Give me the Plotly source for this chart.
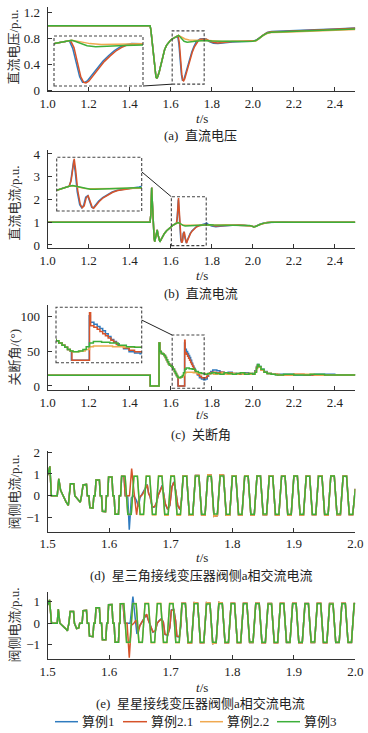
import plotly.graph_objects as go

W, H = 368, 733
FONT = "Liberation Serif, Times New Roman, Noto Sans CJK SC, serif"

names = ["算例1", "算例2.1", "算例2.2", "算例3"]
colors = ["#2f7bbf", "#d6532a", "#f0a950", "#3daf3a"]

# ---------------- tick values ----------------
xt_long = [1.0, 1.2, 1.4, 1.6, 1.8, 2.0, 2.2, 2.4]
xt_short = [1.5, 1.6, 1.7, 1.8, 1.9, 2.0]
yt_a = [0, 0.4, 0.8, 1.2]
yt_a_txt = ["0", "0.4", "0.8", "1.2"]
yt_b = [0, 1, 2, 3, 4]
yt_c = [0, 50, 100]
yt_d = [-1, 0, 1, 2]
yt_e = [-1, 0, 1]

# ---------------- (a) DC voltage ----------------
a_common = [(1.000, 0.99), (1.300, 0.99), (1.4990, 0.99), (1.5030, 0.93), (1.5080, 0.78),
            (1.5130, 0.57), (1.5180, 0.42), (1.5230, 0.28), (1.5280, 0.20), (1.5320, 0.18),
            (1.5370, 0.21), (1.5440, 0.28), (1.5520, 0.40), (1.5600, 0.52), (1.5700, 0.62),
            (1.5800, 0.69), (1.5900, 0.74), (1.6000, 0.77), (1.6100, 0.79), (1.6200, 0.81),
            (1.6300, 0.83)]
a_blue_tail = [(1.6340, 0.83), (1.6400, 0.70), (1.6460, 0.45), (1.6520, 0.24), (1.6570, 0.15),
               (1.6610, 0.15), (1.6660, 0.18), (1.6730, 0.26), (1.6830, 0.39), (1.6930, 0.50),
               (1.7030, 0.59), (1.7130, 0.67), (1.7230, 0.73), (1.7330, 0.765), (1.7430, 0.785),
               (1.7580, 0.79), (1.7730, 0.78), (1.7880, 0.745), (1.8080, 0.72), (1.8300, 0.715),
               (1.8600, 0.73), (1.9000, 0.74), (1.9500, 0.745), (2.0000, 0.75), (2.0150, 0.765),
               (2.0300, 0.80), (2.0500, 0.85), (2.0700, 0.885), (2.0900, 0.90), (2.1500, 0.905),
               (2.2000, 0.91), (2.3000, 0.925), (2.4000, 0.94), (2.5000, 0.955)]
a_red_tail = [(1.6360, 0.835), (1.6420, 0.72), (1.6480, 0.45), (1.6540, 0.24), (1.6590, 0.15),
              (1.6630, 0.14), (1.6680, 0.17), (1.6750, 0.25), (1.6850, 0.38), (1.6950, 0.49),
              (1.7050, 0.58), (1.7150, 0.66), (1.7250, 0.72), (1.7350, 0.76), (1.7450, 0.78),
              (1.7600, 0.785), (1.7750, 0.78), (1.7900, 0.75), (1.8100, 0.73), (1.8300, 0.725),
              (1.8600, 0.735), (1.9000, 0.745), (1.9500, 0.75), (2.0000, 0.75), (2.0150, 0.76),
              (2.0300, 0.795), (2.0500, 0.845), (2.0700, 0.88), (2.0900, 0.895), (2.1500, 0.90),
              (2.2000, 0.905), (2.3000, 0.92), (2.4000, 0.935), (2.5000, 0.95)]
a_orange_tail = [(1.6380, 0.84), (1.6450, 0.83), (1.6550, 0.81), (1.6700, 0.785), (1.6900, 0.77),
                 (1.7100, 0.765), (1.7300, 0.76), (1.7500, 0.76), (1.7700, 0.765), (1.8000, 0.755),
                 (1.8500, 0.745), (1.9000, 0.75), (1.9500, 0.75), (2.0000, 0.748), (2.0150, 0.755),
                 (2.0300, 0.785), (2.0500, 0.835), (2.0700, 0.87), (2.0900, 0.885), (2.1500, 0.89),
                 (2.2000, 0.895), (2.3000, 0.905), (2.4000, 0.92), (2.5000, 0.93)]
a_green_tail = [(1.6380, 0.84), (1.6450, 0.82), (1.6550, 0.78), (1.6650, 0.75), (1.6800, 0.735),
                (1.6950, 0.735), (1.7100, 0.745), (1.7300, 0.755), (1.7500, 0.76), (1.7700, 0.76),
                (1.8000, 0.755), (1.8500, 0.75), (1.9000, 0.75), (1.9500, 0.748), (2.0000, 0.75),
                (2.0150, 0.76), (2.0300, 0.79), (2.0500, 0.84), (2.0700, 0.875), (2.0900, 0.89),
                (2.1500, 0.895), (2.2000, 0.90), (2.3000, 0.915), (2.4000, 0.93), (2.5000, 0.94)]

# ---------------- (b) DC current ----------------
b_common = [(1.000, 1.0), (1.4990, 1.0), (1.5030, 1.35), (1.5070, 2.52), (1.5110, 1.75),
            (1.5150, 0.85), (1.5190, 0.30), (1.5220, 0.15), (1.5260, 0.30), (1.5310, 0.62),
            (1.5340, 0.66), (1.5380, 0.45), (1.5430, 0.20), (1.5470, 0.14), (1.5520, 0.22),
            (1.5600, 0.38), (1.5700, 0.52), (1.5800, 0.63), (1.5900, 0.72), (1.6000, 0.79),
            (1.6100, 0.86), (1.6200, 0.92), (1.6280, 0.96)]
b_blue_tail = [(1.6310, 1.15), (1.6340, 1.70), (1.6370, 2.00), (1.6400, 1.55), (1.6440, 0.75),
               (1.6490, 0.22), (1.6530, 0.10), (1.6570, 0.20), (1.6610, 0.52), (1.6650, 0.58),
               (1.6690, 0.33), (1.6730, 0.12), (1.6760, 0.09), (1.6800, 0.20), (1.6870, 0.37),
               (1.6950, 0.51), (1.7040, 0.63), (1.7140, 0.73), (1.7240, 0.80), (1.7390, 0.86),
               (1.7540, 0.89), (1.7680, 0.93), (1.7750, 0.97), (1.7830, 0.90), (1.8000, 0.83),
               (1.8200, 0.80), (1.8400, 0.82), (1.8700, 0.85), (1.9000, 0.87), (1.9300, 0.87),
               (1.9600, 0.865), (1.9850, 0.86), (1.9950, 0.83), (2.0050, 0.80), (2.0120, 0.81),
               (2.0200, 0.85), (2.0350, 0.91), (2.0500, 0.96), (2.0700, 0.99), (2.0900, 1.0),
               (2.1500, 1.01), (2.2000, 1.0), (2.3000, 1.005), (2.4000, 1.0), (2.5000, 1.0)]
b_red_tail = [(1.6320, 1.20), (1.6350, 1.75), (1.6380, 2.06), (1.6410, 1.60), (1.6450, 0.80),
              (1.6500, 0.25), (1.6540, 0.10), (1.6580, 0.18), (1.6620, 0.50), (1.6660, 0.58),
              (1.6700, 0.35), (1.6740, 0.12), (1.6770, 0.08), (1.6810, 0.18), (1.6880, 0.35),
              (1.6960, 0.50), (1.7050, 0.62), (1.7150, 0.72), (1.7250, 0.79), (1.7400, 0.85),
              (1.7550, 0.88), (1.7700, 0.90), (1.7850, 0.885), (1.8000, 0.86), (1.8200, 0.84),
              (1.8400, 0.845), (1.8700, 0.86), (1.9000, 0.87), (1.9300, 0.875), (1.9600, 0.865),
              (1.9850, 0.86), (1.9950, 0.83), (2.0050, 0.79), (2.0120, 0.80), (2.0200, 0.84),
              (2.0350, 0.90), (2.0500, 0.95), (2.0700, 0.985), (2.0900, 1.0), (2.1500, 1.0),
              (2.2000, 1.005), (2.3000, 1.0), (2.4000, 1.0), (2.5000, 1.0)]
b_orange_tail = [(1.6350, 0.98), (1.6420, 0.95), (1.6500, 0.91), (1.6600, 0.875), (1.6750, 0.865),
                 (1.6950, 0.87), (1.7200, 0.88), (1.7500, 0.89), (1.7700, 0.895), (1.8000, 0.885),
                 (1.8400, 0.88), (1.8700, 0.885), (1.9000, 0.875), (1.9300, 0.88), (1.9600, 0.87),
                 (1.9850, 0.865), (1.9950, 0.835), (2.0050, 0.80), (2.0120, 0.805), (2.0200, 0.84),
                 (2.0350, 0.90), (2.0500, 0.95), (2.0700, 0.985), (2.0900, 1.0), (2.1500, 1.0),
                 (2.2000, 1.0), (2.3000, 1.005), (2.4000, 1.0), (2.5000, 1.0)]
b_green_tail = [(1.6350, 0.99), (1.6420, 0.96), (1.6500, 0.90), (1.6600, 0.86), (1.6700, 0.84),
                (1.6800, 0.845), (1.6950, 0.86), (1.7100, 0.875), (1.7300, 0.885), (1.7500, 0.895),
                (1.7700, 0.90), (1.7900, 0.89), (1.8100, 0.88), (1.8400, 0.875), (1.8700, 0.88),
                (1.9000, 0.87), (1.9300, 0.875), (1.9600, 0.865), (1.9850, 0.86), (1.9950, 0.83),
                (2.0050, 0.79), (2.0120, 0.80), (2.0200, 0.84), (2.0350, 0.90), (2.0500, 0.95),
                (2.0700, 0.985), (2.0900, 1.0), (2.1500, 1.0), (2.2000, 1.005), (2.3000, 1.0),
                (2.4000, 1.0), (2.5000, 1.0)]

# ---------------- (c) extinction angle (step values) ----------------
c_common = [(1.000, 15.5), (1.5000, 0.0), (1.5430, 62), (1.5470, 50), (1.5540, 47), (1.5620, 46),
            (1.5680, 44), (1.5740, 41), (1.5790, 38), (1.5840, 35), (1.5890, 32), (1.5940, 30),
            (1.6000, 29), (1.6070, 27), (1.6120, 24), (1.6180, 21), (1.6230, 18), (1.6280, 15),
            (1.6330, 13)]
c_blue_tail = [(1.6350, 0.0), (1.6675, 62), (1.6695, 53), (1.6760, 50), (1.6820, 47), (1.6870, 44),
               (1.6920, 41), (1.6970, 37), (1.7020, 33), (1.7070, 29), (1.7120, 26), (1.7170, 23),
               (1.7220, 20), (1.7300, 16), (1.7400, 12), (1.7500, 10), (1.7600, 9), (1.7700, 10),
               (1.7780, 14), (1.7850, 18), (1.7950, 21), (1.8050, 23), (1.8250, 22), (1.8400, 20),
               (1.8600, 19), (1.8800, 20), (1.9000, 18), (1.9200, 18), (1.9400, 17), (1.9600, 19),
               (1.9800, 17), (2.0000, 18), (2.0100, 22), (2.0180, 28), (2.0230, 31), (2.0300, 28),
               (2.0400, 24), (2.0550, 21), (2.0700, 18), (2.0900, 17), (2.1200, 17), (2.2000, 16),
               (2.3000, 17), (2.4000, 16), (2.5000, 16)]
c_red_tail = [(1.6360, 0.0), (1.6680, 66), (1.6700, 48), (1.6760, 46), (1.6820, 43), (1.6870, 40),
              (1.6920, 37), (1.6970, 34), (1.7020, 31), (1.7070, 28), (1.7120, 25), (1.7170, 22),
              (1.7220, 20), (1.7300, 17), (1.7400, 14), (1.7500, 12), (1.7650, 12), (1.7750, 14),
              (1.7820, 17), (1.7900, 19), (1.8000, 20), (1.8200, 19), (1.8400, 20), (1.8600, 18),
              (1.8800, 19), (1.9000, 18), (1.9200, 17), (1.9400, 19), (1.9600, 17), (1.9800, 18),
              (2.0000, 17), (2.0100, 21), (2.0180, 27), (2.0230, 30), (2.0300, 27), (2.0400, 23),
              (2.0550, 20), (2.0700, 18), (2.0900, 17), (2.1200, 16), (2.2000, 17), (2.2500, 16),
              (2.3500, 16), (2.4500, 16), (2.5000, 16)]
c_orange_tail = [(1.6380, 12), (1.6500, 13), (1.6600, 15), (1.6680, 19), (1.6750, 20), (1.6900, 20),
                 (1.7100, 19), (1.7300, 18), (1.7500, 18), (1.7700, 17), (1.7900, 18), (1.8100, 17),
                 (1.8300, 18), (1.8500, 19), (1.8700, 17), (1.8900, 18), (1.9100, 17), (1.9300, 18),
                 (1.9500, 17), (1.9700, 18), (1.9900, 17), (2.0100, 20), (2.0180, 25), (2.0230, 29),
                 (2.0300, 27), (2.0400, 23), (2.0550, 20), (2.0700, 18), (2.0900, 17), (2.1300, 16),
                 (2.2000, 17), (2.3000, 16), (2.4000, 16), (2.5000, 16)]
c_green_tail = [(1.6380, 12), (1.6480, 13), (1.6560, 15), (1.6620, 19), (1.6680, 24), (1.6750, 26),
                (1.6900, 25), (1.7050, 24), (1.7200, 21), (1.7350, 19), (1.7500, 18), (1.7650, 17),
                (1.7800, 18), (1.8000, 19), (1.8200, 18), (1.8400, 17), (1.8600, 19), (1.8800, 18),
                (1.9000, 17), (1.9200, 18), (1.9400, 19), (1.9600, 17), (1.9800, 18), (2.0000, 17),
                (2.0100, 20), (2.0180, 26), (2.0230, 31), (2.0300, 28), (2.0400, 24), (2.0550, 20),
                (2.0700, 18), (2.0900, 17), (2.1100, 16), (2.1500, 17), (2.2000, 16), (2.2800, 17),
                (2.3500, 16), (2.4200, 16), (2.5000, 15.5)]

# ---------------- (d) Y-D transformer valve-side phase-a current ----------------
d_pre = [(1.5000, 0.95), (1.5035, 1.35), (1.5060, 0.0), (1.5155, 0.0), (1.5180, 0.78), (1.5210, 0.25),
         (1.5300, -0.30), (1.5335, -0.45), (1.5370, 0.55), (1.5425, 0.55), (1.5440, 0.0),
         (1.5480, -0.15), (1.5530, -0.30), (1.5550, 0.0), (1.5575, 0.50), (1.5630, 0.52),
         (1.5645, 0.0), (1.5670, 0.0), (1.5685, -0.55), (1.5735, -0.57), (1.5750, 0.0), (1.5770, 0.0),
         (1.5785, 0.72), (1.5840, 0.72), (1.5855, 0.0), (1.5875, 0.0), (1.5890, -0.72), (1.5940, -0.74),
         (1.5955, 0.0), (1.5975, 0.0), (1.5990, 0.86), (1.6045, 0.86), (1.6060, 0.0), (1.6080, 0.0),
         (1.6095, -0.86), (1.6150, -0.86), (1.6165, 0.0), (1.6185, 0.0), (1.6202, 0.90)]
d_blue_mid = [(1.6240, 0.90), (1.6260, 0.0), (1.6300, 0.0), (1.6326, -1.57), (1.6360, -0.10),
              (1.6400, 0.0), (1.6440, -0.20), (1.6475, -0.50), (1.6500, -0.10), (1.6540, 0.08),
              (1.6580, 0.32), (1.6615, 0.52), (1.6640, 0.12), (1.6665, -0.05), (1.6700, -0.55),
              (1.6740, -0.52), (1.6770, -0.30), (1.6800, 0.05), (1.6830, 0.25), (1.6860, 0.48),
              (1.6885, 0.10), (1.6910, -0.38), (1.6950, -0.64), (1.6985, -0.45), (1.7020, 0.42),
              (1.7050, 0.64), (1.7080, 0.25), (1.7115, -0.47), (1.7150, -0.64), (1.7175, -0.20)]
d_red_mid = [(1.6240, 0.90), (1.6260, 0.0), (1.6330, 0.0), (1.6365, 1.25), (1.6400, 0.25),
             (1.6445, -0.88), (1.6475, -0.25), (1.6500, -0.05), (1.6540, 0.05), (1.6580, 0.30),
             (1.6620, 0.50), (1.6640, 0.10), (1.6665, -0.05), (1.6700, -0.52), (1.6740, -0.50),
             (1.6770, -0.30), (1.6800, 0.05), (1.6830, 0.22), (1.6860, 0.45), (1.6885, 0.10),
             (1.6910, -0.35), (1.6950, -0.62), (1.6985, -0.45), (1.7020, 0.40), (1.7050, 0.62),
             (1.7080, 0.25), (1.7115, -0.45), (1.7150, -0.62), (1.7175, -0.20)]
d_orange_mid = [(1.6258, 0.90), (1.6302, -0.87), (1.6358, -0.87), (1.6402, 0.90), (1.6458, 0.90),
                (1.6502, -0.88), (1.6558, -0.88), (1.6602, 0.91), (1.6658, 0.91), (1.6702, -0.89),
                (1.6758, -0.89), (1.6802, 0.92), (1.6858, 0.92), (1.6902, -0.90), (1.6958, -0.90),
                (1.7002, 0.92), (1.7058, 0.92), (1.7102, -0.90), (1.7158, -0.90)]
d_green_mid = [(1.6258, 0.90), (1.6302, -0.86), (1.6358, -0.86), (1.6402, 0.90), (1.6458, 0.90),
               (1.6502, -0.86), (1.6558, -0.86), (1.6602, 0.90), (1.6658, 0.90), (1.6702, -0.86),
               (1.6758, -0.86), (1.6802, 0.90), (1.6858, 0.90), (1.6902, -0.86), (1.6958, -0.86),
               (1.7002, 0.90), (1.7058, 0.90), (1.7102, -0.86), (1.7158, -0.86)]
d_ss_t = [1.7202, 1.7258, 1.7302, 1.7358, 1.7402, 1.7458, 1.7502, 1.7558,
          1.7602, 1.7658, 1.7702, 1.7758, 1.7802, 1.7858, 1.7902, 1.7958,
          1.8002, 1.8058, 1.8102, 1.8158, 1.8202, 1.8258, 1.8302, 1.8358,
          1.8402, 1.8458, 1.8502, 1.8558, 1.8602, 1.8658, 1.8702, 1.8758,
          1.8802, 1.8858, 1.8902, 1.8958, 1.9002, 1.9058, 1.9102, 1.9158,
          1.9202, 1.9258, 1.9302, 1.9358, 1.9402, 1.9458, 1.9502, 1.9558,
          1.9602, 1.9658, 1.9702, 1.9758, 1.9802, 1.9858, 1.9902, 1.9958, 2.0000]
d_ss_green = [0.90, 0.90, -0.86, -0.86, 0.91, 0.91, -0.86, -0.86,
              0.90, 0.90, -0.85, -0.85, 0.91, 0.91, -0.86, -0.86,
              0.90, 0.90, -0.86, -0.86, 0.90, 0.90, -0.86, -0.86,
              0.91, 0.91, -0.85, -0.85, 0.90, 0.90, -0.86, -0.86,
              0.90, 0.90, -0.86, -0.86, 0.91, 0.91, -0.86, -0.86,
              0.90, 0.90, -0.86, -0.86, 0.90, 0.90, -0.86, -0.86,
              0.91, 0.91, -0.85, -0.85, 0.90, 0.90, -0.86, -0.86, 0.30]
d_ss_other = [0.92, 0.92, -0.90, -0.90, 0.93, 0.93, -0.89, -0.89,
              0.96, 0.94, -0.95, -0.92, 0.96, 0.94, -0.90, -0.90,
              0.92, 0.92, -0.89, -0.89, 0.92, 0.92, -0.89, -0.89,
              0.92, 0.92, -0.88, -0.88, 0.92, 0.92, -0.89, -0.89,
              0.91, 0.91, -0.89, -0.89, 0.92, 0.92, -0.89, -0.89,
              0.91, 0.91, -0.88, -0.88, 0.92, 0.92, -0.89, -0.89,
              0.92, 0.92, -0.88, -0.88, 0.91, 0.91, -0.88, -0.88, 0.32]

# ---------------- (e) Y-Y transformer valve-side phase-a current ----------------
e_pre = [(1.5000, 0.85), (1.5030, 1.08), (1.5062, 0.0), (1.5155, 0.0), (1.5172, 0.65), (1.5198, 0.0),
         (1.5290, -0.25), (1.5320, -0.35), (1.5345, 0.0), (1.5365, 0.54), (1.5420, 0.54),
         (1.5435, 0.0), (1.5470, -0.25), (1.5505, -0.22), (1.5520, 0.0), (1.5560, 0.0),
         (1.5575, 0.58), (1.5630, 0.60), (1.5645, 0.0), (1.5665, 0.0), (1.5680, -0.60),
         (1.5735, -0.62), (1.5750, 0.0), (1.5770, 0.0), (1.5785, 0.72), (1.5840, 0.72), (1.5855, 0.0),
         (1.5875, 0.0), (1.5890, -0.76), (1.5945, -0.76), (1.5960, 0.0), (1.5975, 0.0), (1.5990, 0.86),
         (1.6045, 0.87), (1.6060, 0.0), (1.6080, 0.0), (1.6095, -0.88), (1.6150, -0.88), (1.6165, 0.0),
         (1.6175, 0.0), (1.6182, 0.90)]
e_blue_mid = [(1.6225, 0.90), (1.6250, 0.0), (1.6340, 0.0), (1.6385, 1.23), (1.6420, 0.30),
              (1.6450, -0.50), (1.6480, -0.20), (1.6520, 0.0), (1.6560, 0.25), (1.6600, 0.40),
              (1.6640, 0.12), (1.6670, -0.10), (1.6710, -0.42), (1.6750, -0.36), (1.6780, 0.0),
              (1.6810, 0.12), (1.6850, 0.22), (1.6880, 0.05), (1.6905, -0.52), (1.6950, -0.57),
              (1.6985, -0.22), (1.7010, 0.62), (1.7050, 0.64), (1.7080, 0.10), (1.7100, -0.62),
              (1.7140, -0.64), (1.7165, -0.10)]
e_red_mid = [(1.6225, 0.90), (1.6250, 0.0), (1.6290, 0.0), (1.6326, -1.60), (1.6360, -0.10),
             (1.6400, 0.0), (1.6440, 0.15), (1.6470, -0.45), (1.6500, -0.10), (1.6540, 0.10),
             (1.6580, 0.30), (1.6610, 0.42), (1.6640, 0.10), (1.6670, -0.10), (1.6710, -0.40),
             (1.6750, -0.35), (1.6780, 0.0), (1.6810, 0.10), (1.6850, 0.20), (1.6880, 0.05),
             (1.6905, -0.50), (1.6950, -0.55), (1.6985, -0.20), (1.7010, 0.60), (1.7050, 0.62),
             (1.7080, 0.10), (1.7100, -0.60), (1.7140, -0.62), (1.7165, -0.10)]
e_orange_mid = [(1.6238, 0.91), (1.6282, -0.89), (1.6338, -0.89), (1.6382, 0.91), (1.6438, 0.91),
                (1.6482, -0.89), (1.6538, -0.89), (1.6582, 0.92), (1.6638, 0.92), (1.6682, -0.90),
                (1.6738, -0.90), (1.6782, 0.92), (1.6838, 0.92), (1.6882, -0.90), (1.6938, -0.90),
                (1.6982, 0.92), (1.7038, 0.92), (1.7082, -0.90), (1.7138, -0.90)]
e_green_mid = [(1.6238, 0.90), (1.6282, -0.88), (1.6338, -0.88), (1.6382, 0.90), (1.6438, 0.90),
               (1.6482, -0.88), (1.6538, -0.88), (1.6582, 0.90), (1.6638, 0.90), (1.6682, -0.88),
               (1.6738, -0.88), (1.6782, 0.90), (1.6838, 0.90), (1.6882, -0.88), (1.6938, -0.88),
               (1.6982, 0.90), (1.7038, 0.90), (1.7082, -0.88), (1.7138, -0.88)]
e_ss_t = [1.7182, 1.7238, 1.7282, 1.7338, 1.7382, 1.7438, 1.7482, 1.7538,
          1.7582, 1.7638, 1.7682, 1.7738, 1.7782, 1.7838, 1.7882, 1.7938,
          1.7982, 1.8038, 1.8082, 1.8138, 1.8182, 1.8238, 1.8282, 1.8338,
          1.8382, 1.8438, 1.8482, 1.8538, 1.8582, 1.8638, 1.8682, 1.8738,
          1.8782, 1.8838, 1.8882, 1.8938, 1.8982, 1.9038, 1.9082, 1.9138,
          1.9182, 1.9238, 1.9282, 1.9338, 1.9382, 1.9438, 1.9482, 1.9538,
          1.9582, 1.9638, 1.9682, 1.9738, 1.9782, 1.9838, 1.9882, 1.9938, 1.9982, 2.0000]
e_ss_green = [0.90, 0.90, -0.88, -0.88, 0.90, 0.90, -0.88, -0.88,
              0.89, 0.89, -0.88, -0.88, 0.90, 0.90, -0.88, -0.88,
              0.90, 0.90, -0.88, -0.88, 0.90, 0.90, -0.87, -0.87,
              0.90, 0.90, -0.88, -0.88, 0.89, 0.89, -0.88, -0.88,
              0.90, 0.90, -0.88, -0.88, 0.90, 0.90, -0.88, -0.88,
              0.90, 0.90, -0.87, -0.87, 0.90, 0.90, -0.88, -0.88,
              0.89, 0.89, -0.88, -0.88, 0.90, 0.90, -0.88, -0.88, 0.90, 0.90]
e_ss_other = [0.92, 0.92, -0.91, -0.91, 0.95, 0.93, -0.90, -0.90,
              0.95, 0.93, -0.94, -0.91, 0.96, 0.93, -0.90, -0.90,
              0.92, 0.92, -0.90, -0.90, 0.92, 0.92, -0.89, -0.89,
              0.92, 0.92, -0.90, -0.90, 0.91, 0.91, -0.90, -0.90,
              0.92, 0.92, -0.89, -0.89, 0.92, 0.92, -0.90, -0.90,
              0.91, 0.91, -0.89, -0.89, 0.92, 0.92, -0.90, -0.90,
              0.91, 0.91, -0.89, -0.89, 0.92, 0.92, -0.89, -0.89, 0.91, 0.91]

# zoom windows of the insets: [t0, t1, v0, v1]
zoom_a = [1.607, 1.763, 0.09, 0.91]
zoom_b = [1.603, 1.773, -0.03, 2.12]
zoom_c = [1.607, 1.763, -3.3, 73.6]


def split(pairs):
    return [p[0] for p in pairs], [p[1] for p in pairs]


def ss(times, vals):
    return list(zip(times, vals))


series_a = [a_common + a_blue_tail, a_common + a_red_tail, a_common + a_orange_tail, a_common + a_green_tail]
series_b = [b_common + b_blue_tail, b_common + b_red_tail, b_common + b_orange_tail, b_common + b_green_tail]
series_c = [c_common + c_blue_tail, c_common + c_red_tail, c_common + c_orange_tail, c_common + c_green_tail]
series_d = [d_pre + d_blue_mid + ss(d_ss_t, d_ss_other), d_pre + d_red_mid + ss(d_ss_t, d_ss_other),
            d_pre + d_orange_mid + ss(d_ss_t, d_ss_other), d_pre + d_green_mid + ss(d_ss_t, d_ss_green)]
series_e = [e_pre + e_blue_mid + ss(e_ss_t, e_ss_other), e_pre + e_red_mid + ss(e_ss_t, e_ss_other),
            e_pre + e_orange_mid + ss(e_ss_t, e_ss_other), e_pre + e_green_mid + ss(e_ss_t, e_ss_green)]

# ---------------- layout geometry (pixels) ----------------
X0, X1 = 47.7, 355.3
panels = [
    dict(key="", series=series_a, top=6.8, bot=91.3, yr=[-0.02, 1.28], xr=[1.0, 2.5], xt=xt_long,
         yt=yt_a, ytt=yt_a_txt, shape="linear"),
    dict(key="2", series=series_b, top=149.9, bot=248.4, yr=[-0.15, 4.18], xr=[1.0, 2.5], xt=xt_long,
         yt=yt_b, ytt=[str(v) for v in yt_b], shape="linear"),
    dict(key="3", series=series_c, top=305.0, bot=390.0, yr=[-5.8, 117], xr=[1.0, 2.5], xt=xt_long,
         yt=yt_c, ytt=[str(v) for v in yt_c], shape="hv"),
    dict(key="4", series=series_d, top=451.2, bot=531.7, yr=[-1.66, 2.05], xr=[1.5, 2.0], xt=xt_short,
         yt=yt_d, ytt=["\u22121", "0", "1", "2"], shape="linear"),
    dict(key="5", series=series_e, top=591.7, bot=659.3, yr=[-1.67, 1.46], xr=[1.5, 2.0], xt=xt_short,
         yt=yt_e, ytt=["\u22121", "0", "1"], shape="linear"),
]
insets = [
    dict(key="6", parent=0, zoom=zoom_a, l=54.0, r=143.0, t=36.0, b=86.0, cf=0.0, box_corner="bottom"),
    dict(key="7", parent=1, zoom=zoom_b, l=56.7, r=141.7, t=157.3, b=211.0, cf=0.73, box_corner="top"),
    dict(key="8", parent=2, zoom=zoom_c, l=56.0, r=141.7, t=307.3, b=362.7, cf=0.77, box_corner="top"),
]

y_titles = [("直流电压/p.u.", 47), ("直流电流/p.u.", 203), ("关断角/(°)", 358), ("阀侧电流/p.u.", 492),
            ("阀侧电流/p.u.", 625)]
ts_y = [118, 275, 414, 557, 687]
captions = [("(a)  直流电压", 135), ("(b)  直流电流", 293), ("(c)  关断角", 434),
            ("(d)  星三角接线变压器阀侧a相交流电流", 575), ("(e)  星星接线变压器阀侧a相交流电流", 703)]


def px(x):
    return x / W


def py(y):
    return 1 - y / H


fig = go.Figure()
layout = dict(width=W, height=H, margin=dict(l=0, r=0, t=0, b=0, autoexpand=False), paper_bgcolor="white",
              plot_bgcolor="rgba(0,0,0,0)", showlegend=False, font=dict(family=FONT, size=13, color="#222"))
AX = "#333"

for p in panels:
    k = p["key"]
    xa, ya = "x" + k, "y" + k
    for i, s in enumerate(p["series"]):
        t, v = split(s)
        fig.add_trace(go.Scatter(x=t, y=v, mode="lines", xaxis=xa, yaxis=ya,
                                 line=dict(color=colors[i], width=1.5, shape=p["shape"]),
                                 hoverinfo="skip", showlegend=False))
    layout["xaxis" + k] = dict(domain=[px(X0), px(X1)], range=p["xr"], anchor=ya, showline=True,
                               linecolor=AX, linewidth=1, ticks="inside", ticklen=4, tickcolor=AX,
                               tickmode="array", tickvals=p["xt"], ticktext=["%.1f" % v for v in p["xt"]],
                               showgrid=False, zeroline=False, tickfont=dict(size=13, color="#222"),
                               automargin=False)
    layout["yaxis" + k] = dict(domain=[py(p["bot"]), py(p["top"])], range=p["yr"], anchor=xa, showline=True,
                               linecolor=AX, linewidth=1, ticks="inside", ticklen=4, tickcolor=AX,
                               tickmode="array", tickvals=p["yt"], ticktext=p["ytt"],
                               showgrid=False, zeroline=False, tickfont=dict(size=13, color="#222"),
                               ticklabelstandoff=4, automargin=False)

shapes = []
annotations = []

for ins in insets:
    k = ins["key"]
    par = panels[ins["parent"]]
    z = ins["zoom"]
    for i, s in enumerate(par["series"]):
        t, v = split(s)
        fig.add_trace(go.Scatter(x=t, y=v, mode="lines", xaxis="x" + k, yaxis="y" + k,
                                 line=dict(color=colors[i], width=1.5, shape=par["shape"]),
                                 hoverinfo="skip", showlegend=False))
    layout["xaxis" + k] = dict(domain=[px(ins["l"]), px(ins["r"])], range=[z[0], z[1]], anchor="y" + k,
                               visible=False, automargin=False)
    layout["yaxis" + k] = dict(domain=[py(ins["b"]), py(ins["t"])], range=[z[2], z[3]], anchor="x" + k,
                               visible=False, automargin=False)
    dash = dict(color="#444", width=1.1, dash="3px,2px")
    shapes.append(dict(type="rect", xref="paper", yref="paper", x0=px(ins["l"]), x1=px(ins["r"]),
                       y0=py(ins["b"]), y1=py(ins["t"]), line=dash))
    pk = par["key"]
    shapes.append(dict(type="rect", xref="x" + pk, yref="y" + pk, x0=z[0], x1=z[1], y0=z[2], y1=z[3],
                       line=dash))
    xr, yr = par["xr"], par["yr"]
    bx = X0 + (z[0] - xr[0]) / (xr[1] - xr[0]) * (X1 - X0)
    bv = z[2] if ins["box_corner"] == "bottom" else z[3]
    by = par["bot"] - (bv - yr[0]) / (yr[1] - yr[0]) * (par["bot"] - par["top"])
    iy = ins["b"] - ins["cf"] * (ins["b"] - ins["t"])
    shapes.append(dict(type="line", xref="paper", yref="paper", x0=px(ins["r"]), y0=py(iy),
                       x1=px(bx), y1=py(by), line=dict(color="#222", width=1)))

xc = (X0 + X1) / 2
for (txt, yc), tsy, (cap, cy) in zip(y_titles, ts_y, captions):
    annotations.append(dict(text=txt, x=px(13.5), y=py(yc), xref="paper", yref="paper", showarrow=False,
                            textangle=-90, font=dict(size=13, color="#333"), xanchor="center",
                            yanchor="middle"))
    annotations.append(dict(text="<i>t</i>/s", x=px(xc), y=py(tsy), xref="paper", yref="paper",
                            showarrow=False, font=dict(size=13, color="#222"), xanchor="center",
                            yanchor="middle"))
    annotations.append(dict(text=cap, x=px(xc - 1), y=py(cy), xref="paper", yref="paper", showarrow=False,
                            font=dict(size=13, color="#222"), xanchor="center", yanchor="middle"))

leg_y = 721.7
leg_line = [(55, 78), (123, 147), (200, 223), (277, 300)]
for i, (l0, l1) in enumerate(leg_line):
    shapes.append(dict(type="line", xref="paper", yref="paper", x0=px(l0), x1=px(l1), y0=py(leg_y),
                       y1=py(leg_y), line=dict(color=colors[i], width=1.5)))
    annotations.append(dict(text=names[i], x=px(l1 + 2), y=py(leg_y), xref="paper", yref="paper",
                            showarrow=False, xanchor="left", yanchor="middle",
                            font=dict(size=13, color="#222")))

layout["shapes"] = shapes
layout["annotations"] = annotations
fig.update_layout(**layout)
fig.write_html("out.html", config={"displayModeBar": False, "staticPlot": True},
               post_script="document.body.style.margin='0';document.body.style.overflow='hidden';")
